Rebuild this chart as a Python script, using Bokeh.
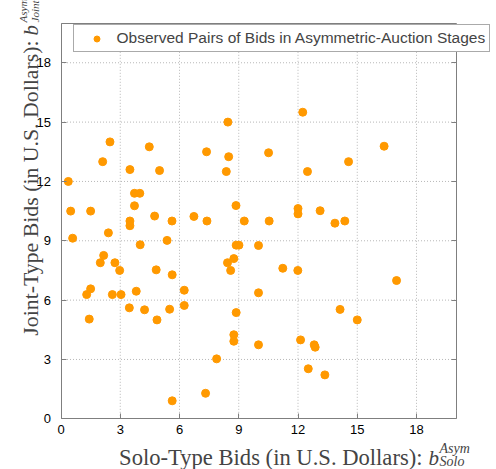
import math
from bokeh.plotting import figure
from bokeh.models import (ColumnDataSource, FixedTicker, LinearAxis, Label, Legend,
                          LegendItem, CustomJSTickFormatter, Range1d)
from bokeh.embed import file_html
from bokeh.resources import INLINE

# ---- data ----
solo_bids = [0.37, 0.49, 0.59, 1.50, 2.11, 2.48, 2.40, 3.49, 3.49, 3.49,
             3.72, 3.99, 3.72, 4.47, 4.99, 4.74, 5.37, 5.62, 6.73, 7.37,
             7.39, 8.45, 8.49, 8.37, 8.86, 9.28, 10.51, 10.54, 12.00, 12.00,
             12.24, 12.48, 13.12, 13.87, 14.37, 14.56, 16.36,
             1.99, 2.16, 2.73, 2.97, 1.30, 1.50, 1.43, 2.60, 3.04,
             3.81, 3.46, 4.23, 4.01, 4.82, 4.86, 5.50, 5.63, 6.24, 6.24,
             5.63, 7.32, 7.88, 8.43, 8.75, 8.59, 8.87, 9.01, 8.87, 8.75,
             8.75, 10.00, 10.00, 10.00, 11.23, 11.99, 12.13, 12.52, 12.82, 12.87,
             13.36, 14.13, 15.00, 16.99]
joint_bids = [12.00, 10.50, 9.13, 10.50, 13.00, 14.00, 9.40, 12.60, 10.00, 9.76,
              11.40, 11.40, 10.77, 13.75, 12.55, 10.25, 9.02, 10.00, 10.23, 13.50,
              10.00, 15.00, 13.25, 12.50, 10.78, 10.00, 13.45, 10.00, 10.63, 10.36,
              15.50, 12.50, 10.52, 9.89, 10.00, 13.00, 13.78,
              7.89, 8.26, 7.89, 7.50, 6.28, 6.57, 5.04, 6.28, 6.28,
              6.45, 5.61, 5.51, 8.80, 7.53, 5.00, 5.54, 7.28, 6.50, 5.73,
              0.91, 1.29, 3.03, 7.89, 8.10, 7.50, 8.78, 8.78, 5.37, 4.25,
              3.92, 8.76, 6.37, 3.74, 7.61, 7.50, 3.99, 2.53, 3.74, 3.62,
              2.22, 5.53, 5.00, 6.99]
tick_values = [0, 3, 6, 9, 12, 15, 18]
axis_limits = [0, 20]
legend_label = "Observed Pairs of Bids in Asymmetric-Auction Stages"
x_label_main = "Solo-Type Bids (in U.S. Dollars):"
y_label_main = "Joint-Type Bids (in U.S. Dollars):"
var_letter = "b"
sup_text = "Asym"
x_sub_text = "Solo"
y_sub_text = "Joint"

ORANGE = "#ff9900"
FRAME = "#7f7f7f"
SANS = "Liberation Sans"
SERIF = "Liberation Serif"

W, H = 496, 469
# pixel placement of the axes box inside the canvas
left_px, right_px, top_px, bottom_px = 60.5, 455.5, 22.7, 418.3
lo, hi = axis_limits
sx = (right_px - left_px) / (hi - lo)
sy = (bottom_px - top_px) / (hi - lo)
x_range = Range1d(lo - left_px / sx, hi + (W - right_px) / sx)
y_range = Range1d(lo - (H - bottom_px) / sy, hi + top_px / sy)

p = figure(width=W, height=H, output_backend="svg", toolbar_location=None,
           x_range=x_range, y_range=y_range, x_axis_location=None, y_axis_location=None,
           min_border=0)
p.outline_line_color = None
p.background_fill_color = "white"
p.border_fill_color = "white"
p.xgrid.visible = False
p.ygrid.visible = False

ticker = FixedTicker(ticks=tick_values)

# dotted grid limited to the axes box
grid_ticks = [t for t in tick_values if lo < t < hi]
p.segment(x0=grid_ticks, y0=[lo] * len(grid_ticks), x1=grid_ticks, y1=[hi] * len(grid_ticks),
          line_color="#b8b8b8", line_dash="1 2", line_width=1)
p.segment(x0=[lo] * len(grid_ticks), y0=grid_ticks, x1=[hi] * len(grid_ticks), y1=grid_ticks,
          line_color="#b8b8b8", line_dash="1 2", line_width=1)

src = ColumnDataSource(dict(x=solo_bids, y=joint_bids))
r = p.scatter("x", "y", source=src, size=8, fill_color=ORANGE, line_color=ORANGE)

blank = CustomJSTickFormatter(code="return ''")
for side, loc in (("below", lo), ("left", lo), ("above", hi), ("right", hi)):
    ax = LinearAxis(ticker=ticker, fixed_location=loc, bounds=(lo, hi),
                    major_tick_in=5, major_tick_out=0, minor_tick_line_color=None,
                    axis_line_color=FRAME, major_tick_line_color=FRAME,
                    major_label_text_font=SANS, major_label_text_font_size="13px",
                    major_label_text_color="black")
    if side in ("above", "right"):
        ax.formatter = blank
        ax.major_label_standoff = 0
    elif side == "below":
        ax.major_label_standoff = 6
    else:
        ax.major_label_standoff = 10
    p.add_layout(ax, side)

legend = Legend(items=[LegendItem(label=legend_label, renderers=[r])],
                location=(72.5, H - 52), padding=4, spacing=0, glyph_width=37, glyph_height=15,
                label_height=15, label_standoff=2, label_text_font=SANS,
                label_text_font_size="15.5px", border_line_color="#555555",
                border_line_width=1, background_fill_alpha=1.0, margin=0)
p.add_layout(legend, "center")

def lab(x, y, text, size, italic=False, angle=0.0, align="left"):
    p.add_layout(Label(x=x, y=y, x_units="screen", y_units="screen", text=text,
                       text_font=SERIF, text_font_style="italic" if italic else "normal",
                       text_font_size=size, text_baseline="alphabetic", angle=angle,
                       text_align=align))

# x-axis title with math-style variable
lab(422, H - 457, x_label_main, "22.6px", align="right")
lab(428, H - 457, var_letter, "21px", italic=True)
lab(439, H - 448, sup_text, "14px", italic=True)
lab(439, H - 461, x_sub_text, "14px", italic=True)

# y-axis title (rotated)
A = math.pi / 2
lab(30, H - 40, y_label_main, "21.8px", angle=A, align="right")
lab(30, H - 35, var_letter, "21px", italic=True, angle=A)
lab(22, H - 22, sup_text, "11px", italic=True, angle=A)
lab(34, H - 22, y_sub_text, "11px", italic=True, angle=A)

open("out.html", "w").write(file_html(p, INLINE))
